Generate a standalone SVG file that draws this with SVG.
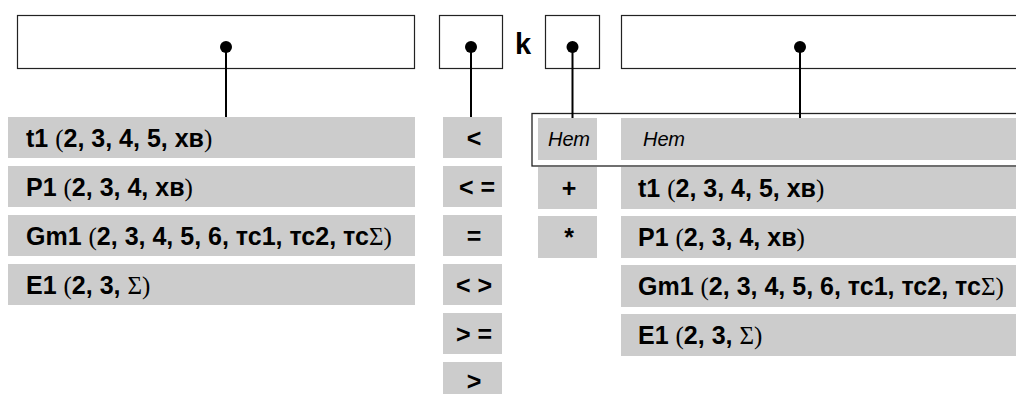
<svg xmlns="http://www.w3.org/2000/svg" width="1016" height="394" viewBox="0 0 1016 394">
<style>
.box{fill:#fff;stroke:#222;stroke-width:1.2}
.bar{fill:#cccccc}
.t{font-family:"Liberation Sans",Arial,sans-serif;font-weight:bold;font-size:25px;fill:#000}
.s{font-family:"Liberation Serif","Times New Roman",serif;font-weight:normal}
.op{font-family:"Liberation Sans",Arial,sans-serif;font-weight:bold;font-size:25px;fill:#000;text-anchor:middle}
.it{font-family:"Liberation Sans",Arial,sans-serif;font-style:italic;font-size:20px;fill:#000}
.ln{stroke:#000;stroke-width:2;fill:none}
.dot{fill:#000}
.frame{fill:none;stroke:#222;stroke-width:1.3}
</style>
<rect width="1016" height="394" fill="#fff"/>
<g id="box-left"><rect class="box" x="17.5" y="15.5" width="397" height="53"/></g>
<g id="box-op"><rect class="box" x="439.5" y="15.5" width="63" height="53"/></g>
<g id="label-k"><text class="t" x="515" y="54" style="font-size:29px">k</text></g>
<g id="box-k"><rect class="box" x="545.5" y="15.5" width="54" height="53"/></g>
<g id="box-right"><rect class="box" x="621.5" y="15.5" width="400" height="53"/></g>

<g id="list-left">
<rect class="bar" x="8" y="117" width="407" height="41"/>
<rect class="bar" x="8" y="166" width="407" height="41"/>
<rect class="bar" x="8" y="215" width="407" height="41"/>
<rect class="bar" x="8" y="264" width="407" height="41"/>
<text class="t" x="26" y="146.5">t1 <tspan class="s">(</tspan>2, 3, 4, 5, хв<tspan class="s">)</tspan></text>
<text class="t" x="26" y="195.5">P1 <tspan class="s">(</tspan>2, 3, 4, хв<tspan class="s">)</tspan></text>
<text class="t" x="26" y="244.5">Gm1 <tspan class="s">(</tspan>2, 3, 4, 5, 6, тс1, тс2, тс<tspan class="s">Σ)</tspan></text>
<text class="t" x="26" y="293.5">E1 <tspan class="s">(</tspan>2, 3, <tspan class="s">Σ)</tspan></text>
</g>

<g id="list-op">
<rect class="bar" x="443" y="117" width="59" height="41"/>
<rect class="bar" x="443" y="166" width="59" height="41"/>
<rect class="bar" x="443" y="215" width="59" height="41"/>
<rect class="bar" x="443" y="264" width="59" height="41"/>
<rect class="bar" x="443" y="313" width="59" height="41"/>
<rect class="bar" x="443" y="362" width="59" height="41"/>
<text class="op" x="474" y="146.5">&lt;</text>
<text class="op" x="477" y="195.5">&lt; =</text>
<text class="op" x="474" y="244.5">=</text>
<text class="op" x="474" y="293.5">&lt; &gt;</text>
<text class="op" x="474" y="342.5">&gt; =</text>
<text class="op" x="474" y="390">&gt;</text>
</g>

<g id="list-k">
<rect class="bar" x="538" y="118" width="59" height="42"/>
<rect class="bar" x="538" y="167" width="59" height="42"/>
<rect class="bar" x="538" y="216" width="59" height="42"/>
<text class="it" x="569" y="146" text-anchor="middle">Нет</text>
<text class="op" x="569" y="197">+</text>
<text class="op" x="569" y="246">*</text>
</g>

<g id="list-right">
<rect class="bar" x="621" y="118" width="400" height="42"/>
<rect class="bar" x="621" y="167" width="400" height="42"/>
<rect class="bar" x="621" y="216" width="400" height="42"/>
<rect class="bar" x="621" y="265" width="400" height="42"/>
<rect class="bar" x="621" y="314" width="400" height="42"/>
<text class="it" x="643" y="146">Нет</text>
<text class="t" x="638" y="196.5">t1 <tspan class="s">(</tspan>2, 3, 4, 5, хв<tspan class="s">)</tspan></text>
<text class="t" x="638" y="245.5">P1 <tspan class="s">(</tspan>2, 3, 4, хв<tspan class="s">)</tspan></text>
<text class="t" x="638" y="294.5">Gm1 <tspan class="s">(</tspan>2, 3, 4, 5, 6, тс1, тс2, тс<tspan class="s">Σ)</tspan></text>
<text class="t" x="638" y="343.5">E1 <tspan class="s">(</tspan>2, 3, <tspan class="s">Σ)</tspan></text>
</g>

<g id="frame-selected"><rect class="frame" x="532" y="113.5" width="500" height="52.5"/></g>

<g id="connectors">
<line class="ln" x1="226" y1="47" x2="226" y2="117"/>
<line class="ln" x1="471" y1="47" x2="471" y2="117"/>
<line class="ln" x1="572.5" y1="47" x2="572.5" y2="118"/>
<line class="ln" x1="800" y1="47" x2="800" y2="118"/>
<circle class="dot" cx="226" cy="47" r="6"/>
<circle class="dot" cx="471" cy="47" r="6"/>
<circle class="dot" cx="572.5" cy="47" r="6"/>
<circle class="dot" cx="800" cy="47" r="6"/>
</g>
</svg>
